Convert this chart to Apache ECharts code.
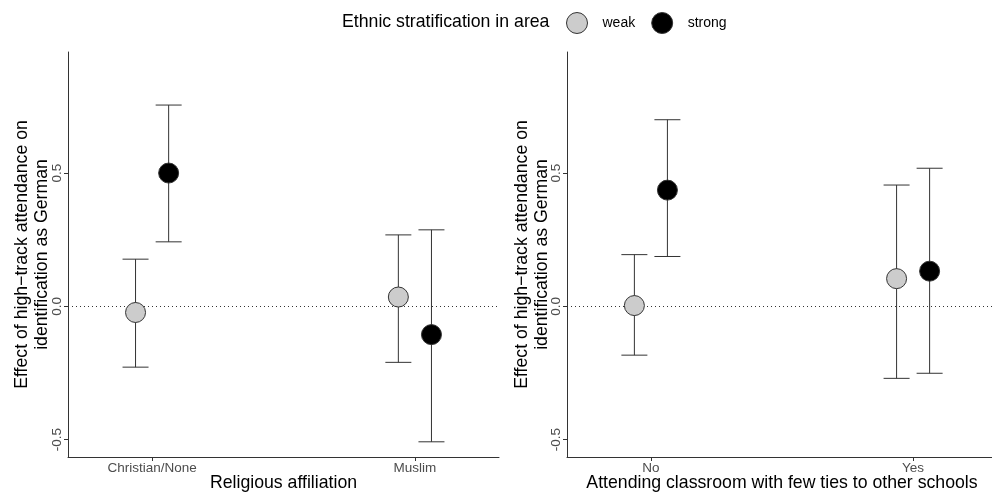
<!DOCTYPE html>
<html>
<head>
<meta charset="utf-8">
<script src="https://cdn.jsdelivr.net/npm/echarts@6/dist/echarts.min.js"></script>
<style>html,body{margin:0;padding:0;background:#fff}#c{width:992px;height:493px}</style>
</head>
<body>
<div id="c"></div>
<script>
const religionCats = ['Christian/None', 'Muslim'];
const relWeakEst = [-0.023, 0.035];
const relWeakLo = [-0.228, -0.21];
const relWeakHi = [0.177, 0.268];
const relStrongEst = [0.50, -0.106];
const relStrongLo = [0.242, -0.508];
const relStrongHi = [0.755, 0.287];

const tiesCats = ['No', 'Yes'];
const tiesWeakEst = [0.003, 0.104];
const tiesWeakLo = [-0.183, -0.27];
const tiesWeakHi = [0.194, 0.455];
const tiesStrongEst = [0.436, 0.132];
const tiesStrongLo = [0.187, -0.251];
const tiesStrongHi = [0.70, 0.518];

const yTicks = [-0.5, 0, 0.5];
const yTitle = 'Effect of high\u2212track attendance on\nidentification as German';
const xTitles = ['Religious affiliation', 'Attending classroom with few ties to other schools'];
const legendTitle = 'Ethnic stratification in area';
const groupNames = ['weak', 'strong'];

const FONT = '"Liberation Sans", Arial, Helvetica, sans-serif';
const DODGE = 0.063;
const weakColor = '#cccccc';
const strongColor = '#000000';

function pts(est, off) { return est.map((v, i) => [i + 1 + off, v]); }
function bars(lo, hi, off) { return lo.map((v, i) => [i + 1 + off, v, hi[i]]); }

function errSeries(data, idx) {
  return {
    type: 'custom', xAxisIndex: idx, yAxisIndex: idx, z: 1, silent: true,
    data: data,
    renderItem: function (params, api) {
      const x = api.value(0);
      const p1 = api.coord([x, api.value(1)]);
      const p2 = api.coord([x, api.value(2)]);
      const w = 13;
      const st = { stroke: '#333333', lineWidth: 1 };
      return { type: 'group', children: [
        { type: 'line', shape: { x1: p1[0], y1: p1[1], x2: p2[0], y2: p2[1] }, style: st },
        { type: 'line', shape: { x1: p1[0] - w, y1: p1[1], x2: p1[0] + w, y2: p1[1] }, style: st },
        { type: 'line', shape: { x1: p2[0] - w, y1: p2[1], x2: p2[0] + w, y2: p2[1] }, style: st }
      ]};
    }
  };
}

function scatter(name, data, idx, color, withZero) {
  const s = {
    name: name, type: 'scatter', xAxisIndex: idx, yAxisIndex: idx, z: 3,
    symbol: 'circle', symbolSize: 20, data: data,
    itemStyle: { color: color, borderColor: '#333333', borderWidth: 1, opacity: 1 }
  };
  if (withZero) {
    s.markLine = {
      silent: true, symbol: 'none', label: { show: false }, z: 0,
      lineStyle: { type: [1, 3], color: '#333333', width: 1 },
      data: [{ yAxis: 0 }]
    };
  }
  return s;
}

function xAxis(idx, cats) {
  return {
    type: 'value', gridIndex: idx, min: 0.68, max: 2.32,
    name: xTitles[idx], nameLocation: 'middle', nameGap: 17, nameMoveOverlap: false,
    nameTextStyle: { fontFamily: FONT, fontSize: 17.7, color: '#000' },
    axisLine: { show: true, onZero: false, lineStyle: { color: '#333333', width: 1 } },
    axisTick: { show: true, length: 4, customValues: [1, 2], lineStyle: { color: '#333333' } },
    axisLabel: { customValues: [1, 2], margin: 4, color: '#4d4d4d', fontFamily: FONT, fontSize: 13.5,
      formatter: v => cats[Math.round(v) - 1] },
    splitLine: { show: false }
  };
}

function yAxis(idx, gap) {
  return {
    type: 'value', gridIndex: idx, min: -0.565, max: 0.954,
    name: yTitle, nameLocation: 'middle', nameGap: gap, nameRotate: 90, nameMoveOverlap: false,
    nameTextStyle: { fontFamily: FONT, fontSize: 17.7, color: '#000', lineHeight: 20 },
    axisLine: { show: true, onZero: false, lineStyle: { color: '#333333', width: 1 } },
    axisTick: { show: true, length: 4, customValues: yTicks, lineStyle: { color: '#333333' } },
    axisLabel: { customValues: yTicks, rotate: 90, margin: 4, color: '#4d4d4d', fontFamily: FONT, fontSize: 13.5,
      formatter: v => v.toFixed(1) },
    splitLine: { show: false }
  };
}

const chart = echarts.init(document.getElementById('c'), null, { renderer: 'canvas' });
chart.setOption({
  backgroundColor: '#ffffff',
  animation: false,
  title: {
    text: legendTitle, left: 337, top: 8,
    textStyle: { fontFamily: FONT, fontSize: 17.7, fontWeight: 'normal', color: '#000' }
  },
  legend: {
    data: [
      { name: groupNames[0], itemStyle: { color: weakColor, borderColor: '#333333', borderWidth: 1 } },
      { name: groupNames[1], itemStyle: { color: strongColor, borderColor: '#333333', borderWidth: 1 } }
    ],
    left: 561, top: 7, icon: 'circle', itemWidth: 21, itemHeight: 21, itemGap: 16,
    textStyle: { fontFamily: FONT, fontSize: 14, color: '#000', padding: [0, 0, 0, 10] }
  },
  grid: [
    { left: 68, top: 52, width: 431, height: 405, outerBoundsMode: 'none', containLabel: false },
    { left: 567, top: 52, width: 430, height: 405, outerBoundsMode: 'none', containLabel: false }
  ],
  xAxis: [xAxis(0, religionCats), xAxis(1, tiesCats)],
  yAxis: [yAxis(0, 16), yAxis(1, 15)],
  series: [
    errSeries(bars(relWeakLo, relWeakHi, -DODGE), 0),
    errSeries(bars(relStrongLo, relStrongHi, DODGE), 0),
    scatter(groupNames[0], pts(relWeakEst, -DODGE), 0, weakColor, true),
    scatter(groupNames[1], pts(relStrongEst, DODGE), 0, strongColor, false),
    errSeries(bars(tiesWeakLo, tiesWeakHi, -DODGE), 1),
    errSeries(bars(tiesStrongLo, tiesStrongHi, DODGE), 1),
    scatter(groupNames[0], pts(tiesWeakEst, -DODGE), 1, weakColor, true),
    scatter(groupNames[1], pts(tiesStrongEst, DODGE), 1, strongColor, false)
  ]
});
</script>
</body>
</html>
